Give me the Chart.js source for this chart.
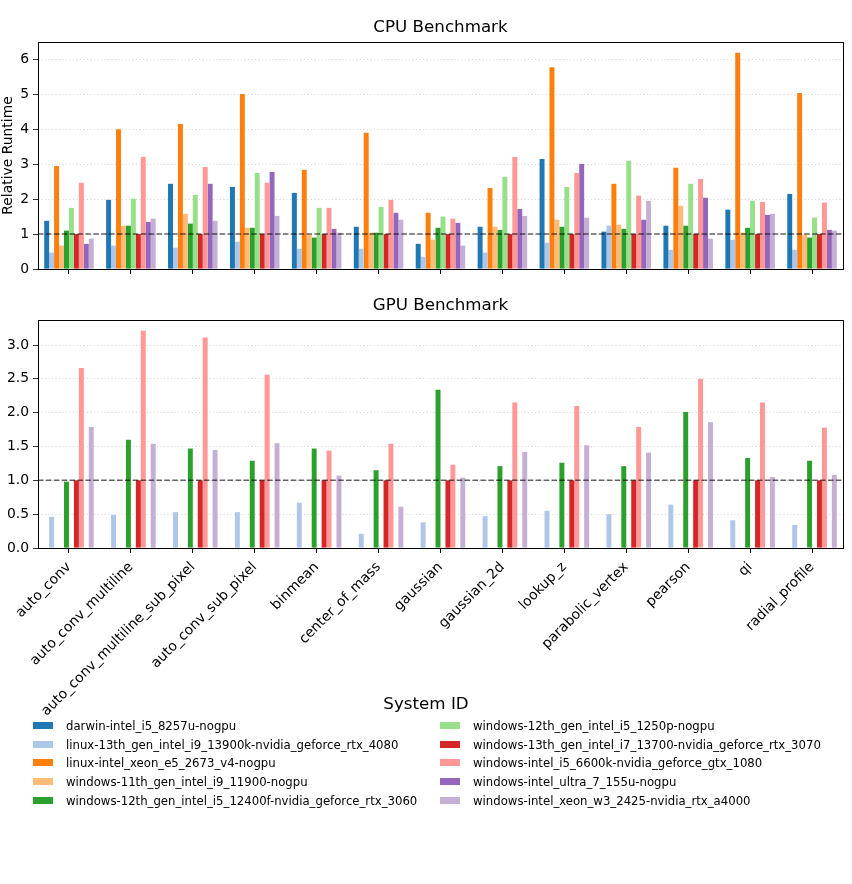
<!DOCTYPE html>
<html>
<head>
<meta charset="utf-8">
<script src="https://cdn.jsdelivr.net/npm/chart.js@4/dist/chart.umd.min.js"></script>
<style>
  body { margin: 0; background: #fff; width: 852px; height: 884px; position: relative; overflow: hidden; font-family: "DejaVu Sans", sans-serif; }
  #cpuChart { position: absolute; left: 0; top: 0; }
  #gpuChart { position: absolute; left: 0; top: 290px; }
  #legendTitle { position: absolute; left: 0; top: 693px; width: 852px; text-align: center; font-size: 16.7px; color: #000; }
  #legend { position: absolute; left: 33px; top: 716px; display: grid; grid-template-columns: 407px 400px; grid-auto-flow: column; grid-template-rows: repeat(5, 18.8px); }
  .item { display: flex; align-items: center; font-family: "DejaVu Sans Condensed", "DejaVu Sans", sans-serif; font-stretch: condensed; font-size: 13px; color: #000; white-space: nowrap; }
  .swatch { width: 20px; height: 7px; margin-right: 13px; flex: none; }
</style>
</head>
<body>
<canvas id="cpuChart" width="852" height="290"></canvas>
<canvas id="gpuChart" width="852" height="440"></canvas>
<div id="legendTitle">System ID</div>
<div id="legend"></div>
<script>
const categories = ["auto_conv", "auto_conv_multiline", "auto_conv_multiline_sub_pixel", "auto_conv_sub_pixel",
  "binmean", "center_of_mass", "gaussian", "gaussian_2d", "lookup_z", "parabolic_vertex", "pearson", "qi", "radial_profile"];

const systems = [
  "darwin-intel_i5_8257u-nogpu",
  "linux-13th_gen_intel_i9_13900k-nvidia_geforce_rtx_4080",
  "linux-intel_xeon_e5_2673_v4-nogpu",
  "windows-11th_gen_intel_i9_11900-nogpu",
  "windows-12th_gen_intel_i5_12400f-nvidia_geforce_rtx_3060",
  "windows-12th_gen_intel_i5_1250p-nogpu",
  "windows-13th_gen_intel_i7_13700-nvidia_geforce_rtx_3070",
  "windows-intel_i5_6600k-nvidia_geforce_gtx_1080",
  "windows-intel_ultra_7_155u-nogpu",
  "windows-intel_xeon_w3_2425-nvidia_rtx_a4000"
];
const colors = ["#1f77b4", "#aec7e8", "#ff7f0e", "#ffbb78", "#2ca02c", "#98df8a", "#d62728", "#ff9896", "#9467bd", "#c5b0d5"];

// CPU relative runtime (per system, in category order)
const cpuDarwin      = [1.38, 1.98, 2.44, 2.35, 2.18, 1.21, 0.72, 1.21, 3.15, 1.07, 1.24, 1.70, 2.15];
const cpuLinux13900k = [0.47, 0.67, 0.61, 0.78, 0.58, 0.58, 0.35, 0.47, 0.75, 1.24, 0.55, 0.84, 0.55];
const cpuLinuxXeon   = [2.95, 4.00, 4.15, 5.01, 2.84, 3.90, 1.61, 2.32, 5.78, 2.44, 2.90, 6.19, 5.04];
const cpuWin11900    = [0.67, 1.24, 1.58, 1.18, 0.98, 1.04, 0.84, 1.21, 1.41, 1.27, 1.81, 1.04, 0.98];
const cpuWin12400f   = [1.10, 1.24, 1.30, 1.18, 0.90, 1.04, 1.18, 1.12, 1.21, 1.15, 1.24, 1.18, 0.90];
const cpuWin1250p    = [1.75, 2.01, 2.12, 2.75, 1.75, 1.78, 1.50, 2.64, 2.35, 3.10, 2.44, 1.95, 1.47];
const cpuWin13700    = [1, 1, 1, 1, 1, 1, 1, 1, 1, 1, 1, 1, 1];
const cpuWin6600k    = [2.47, 3.21, 2.92, 2.47, 1.75, 1.98, 1.44, 3.21, 2.75, 2.10, 2.58, 1.92, 1.90];
const cpuWinUltra    = [0.72, 1.35, 2.44, 2.78, 1.15, 1.61, 1.32, 1.72, 3.01, 1.41, 2.04, 1.55, 1.12];
const cpuWinXeonW3   = [0.87, 1.44, 1.38, 1.52, 1.04, 1.41, 0.67, 1.52, 1.47, 1.95, 0.87, 1.58, 1.10];

// GPU relative runtime (only GPU systems)
const gpuLinux13900k = [0.46, 0.49, 0.53, 0.53, 0.67, 0.21, 0.38, 0.47, 0.55, 0.50, 0.64, 0.41, 0.34];
const gpuWin12400f   = [0.98, 1.60, 1.47, 1.29, 1.47, 1.15, 2.34, 1.21, 1.26, 1.21, 2.01, 1.33, 1.29];
const gpuWin13700    = [1, 1, 1, 1, 1, 1, 1, 1, 1, 1, 1, 1, 1];
const gpuWin6600k    = [2.66, 3.21, 3.11, 2.56, 1.44, 1.54, 1.23, 2.15, 2.10, 1.79, 2.50, 2.15, 1.78];
const gpuWinXeonW3   = [1.79, 1.54, 1.45, 1.55, 1.07, 0.61, 1.04, 1.42, 1.52, 1.41, 1.86, 1.05, 1.08];

const cpuSeries = [cpuDarwin, cpuLinux13900k, cpuLinuxXeon, cpuWin11900, cpuWin12400f,
  cpuWin1250p, cpuWin13700, cpuWin6600k, cpuWinUltra, cpuWinXeonW3];
const gpuSeries = [null, gpuLinux13900k, null, null, gpuWin12400f,
  null, gpuWin13700, gpuWin6600k, null, gpuWinXeonW3];

const REF_LINE = 1;
const cpuTicks = { max: 6.5, step: 1 };
const gpuTicks = { max: 3.37, step: 0.5 };

Chart.defaults.font.family = "'DejaVu Sans', sans-serif";

// dashed baseline, full box around the axes, title centred over the plot area
const framePlugin = {
  id: "frame",
  afterDatasetsDraw(chart, args, opts) {
    const { ctx, chartArea: a, scales } = chart;
    const py = scales.y.getPixelForValue(REF_LINE);
    ctx.save();
    ctx.strokeStyle = "rgba(0,0,0,0.6)";
    ctx.lineWidth = 1.5;
    ctx.setLineDash([5.5, 2.4]);
    ctx.beginPath();
    ctx.moveTo(a.left, py);
    ctx.lineTo(a.right, py);
    ctx.stroke();
    ctx.setLineDash([]);
    ctx.strokeStyle = "#000";
    ctx.lineWidth = 1;
    ctx.strokeRect(Math.round(a.left) + 0.5, Math.round(a.top) + 0.5, Math.round(a.width), Math.round(a.height));
    ctx.fillStyle = "#000";
    ctx.font = "16.7px 'DejaVu Sans', sans-serif";
    ctx.textAlign = "center";
    ctx.textBaseline = "middle";
    ctx.fillText(opts.text, (a.left + a.right) / 2, a.top - opts.offset);
    ctx.restore();
  }
};

const buildDatasets = (series) => series.map((vals, i) => ({
  label: systems[i],
  data: vals ? vals : categories.map(() => null),
  backgroundColor: colors[i],
  borderWidth: 0,
  categoryPercentage: 0.8,
  barPercentage: 1.0
}));

const makeChart = (id, title, top, series, yt, yTitle, showX, xHeight, decimals) => {
  const ctx = document.getElementById(id).getContext("2d");
  return new Chart(ctx, {
    type: "bar",
    data: { labels: categories, datasets: buildDatasets(series) },
    options: {
      responsive: false,
      animation: false,
      layout: { padding: { left: 0, right: 9, top: top, bottom: 0 } },
      plugins: {
        legend: { display: false },
        tooltip: { enabled: false },
        title: { display: false },
        frame: { text: title, offset: 14.5 }
      },
      scales: {
        x: {
          afterFit: (s) => { s.height = xHeight; },
          ticks: {
            display: showX,
            autoSkip: false,
            maxRotation: 45,
            minRotation: 45,
            color: "#000",
            font: { size: 13.9 },
            padding: 6
          },
          grid: { display: true, drawOnChartArea: false, offset: false, tickLength: 5, tickColor: "#000", color: "#000" },
          border: { display: false }
        },
        y: {
          min: 0,
          max: yt.max,
          afterFit: (s) => { s.width = 38; },
          ticks: {
            stepSize: yt.step,
            includeBounds: false,
            color: "#000",
            font: { size: 13.9 },
            padding: 4,
            callback: (v) => decimals ? Number(v).toFixed(1) : v
          },
          grid: { color: "rgba(185,185,185,0.75)", lineWidth: 0.8, tickColor: "#000", tickLength: 5, tickBorderDash: [] },
          border: { display: false, dash: [1, 2.5] },
          title: {
            display: !!yTitle,
            text: yTitle,
            color: "#000",
            font: { size: 13.9 },
            padding: { top: 0, bottom: 0 }
          }
        }
      }
    },
    plugins: [framePlugin]
  });
};

makeChart("cpuChart", "CPU Benchmark", 42, cpuSeries, cpuTicks, "Relative Runtime", false, 21, false);
makeChart("gpuChart", "GPU Benchmark", 30, gpuSeries, gpuTicks, "", true, 182, true);

// legend: two columns, filled column by column
const legend = document.getElementById("legend");
systems.forEach((name, i) => {
  const item = document.createElement("div");
  item.className = "item";
  item.innerHTML = `<span class="swatch" style="background:${colors[i]}"></span><span>${name}</span>`;
  legend.appendChild(item);
});
</script>
</body>
</html>
